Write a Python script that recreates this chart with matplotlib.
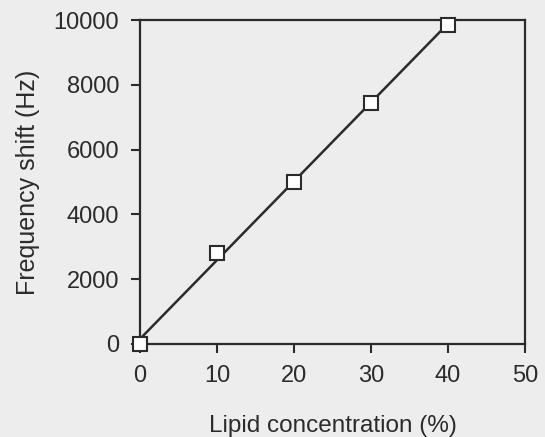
import matplotlib
matplotlib.use("Agg")

import numpy as np
import matplotlib.pyplot as plt

# ---- data ----
lipid_pct = [0, 10, 20, 30, 40]
freq_shift = [0, 2820, 4990, 7450, 9850]
x_ticks = [0, 10, 20, 30, 40, 50]
y_ticks = [0, 2000, 4000, 6000, 8000, 10000]

plt.rcParams['font.family'] = ['Liberation Sans', 'DejaVu Sans']

ink = '#2b2b2b'
paper = '#ededed'

fig = plt.figure(figsize=(5.45, 4.37), dpi=100, facecolor=paper)
ax = fig.add_axes([0.257, 0.213, 0.706, 0.741])
ax.set_facecolor(paper)

# straight line fitted through the points
slope, icpt = np.polyfit(lipid_pct, freq_shift, 1)
xf = np.array([lipid_pct[0], lipid_pct[-1]])
ax.plot(xf, slope * xf + icpt, color=ink, lw=1.8, zorder=2)
ax.plot(lipid_pct, freq_shift, ls='none', marker='s', ms=10, mfc='white',
        mec=ink, mew=1.5, zorder=3, clip_on=False)

ax.set_xlim(0, 50)
ax.set_ylim(0, 10000)
ax.set_xticks(x_ticks)
ax.set_yticks(y_ticks)
ax.tick_params(direction='out', length=6.5, width=1.5, color=ink,
               labelsize=17, labelcolor=ink, pad=8.5)
for s in ax.spines.values():
    s.set_color(ink)
    s.set_linewidth(1.6)

ax.set_xlabel('Lipid concentration (%)', fontsize=17.5, color=ink, labelpad=20)
ax.set_ylabel('Frequency shift (Hz)', fontsize=18, color=ink, labelpad=10)

fig.savefig('out.png', dpi=100, facecolor=paper)
